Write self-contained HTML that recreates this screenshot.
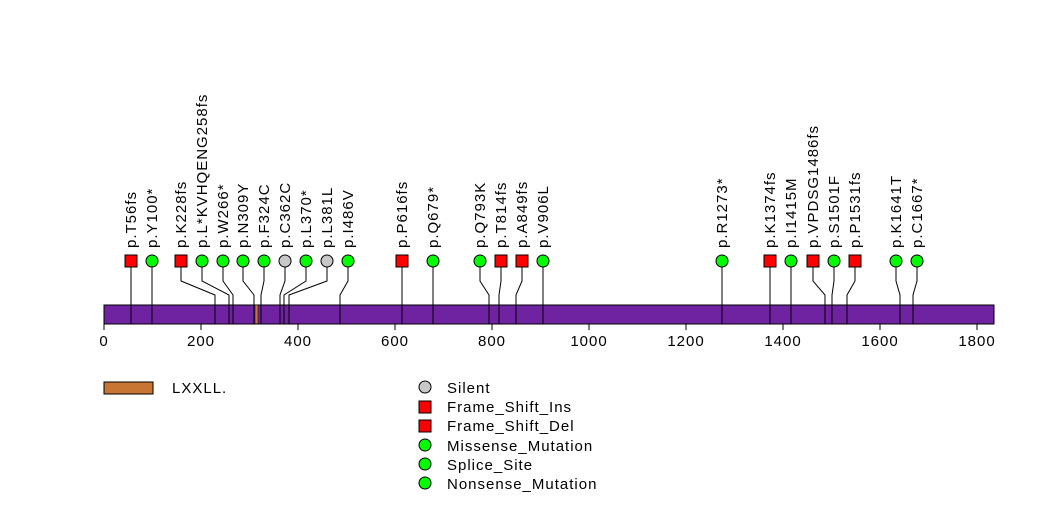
<!DOCTYPE html>
<html><head><style>body{margin:0;background:#fff}svg{display:block}text{font-family:"Liberation Sans",sans-serif;font-size:15px;letter-spacing:1px;fill:#000}</style></head><body>
<svg width="1047" height="524" xmlns="http://www.w3.org/2000/svg">
<rect x="104" y="305" width="890" height="19" fill="#6f23a0" stroke="#000" stroke-width="1"/>
<rect x="255" y="305" width="3" height="19" fill="#c87533" stroke="#000" stroke-width="0.5"/>
<g stroke="#000" stroke-width="1" fill="none">
<line x1="104" y1="324" x2="994" y2="324"/>
<line x1="104" y1="324" x2="104" y2="330"/><line x1="201" y1="324" x2="201" y2="330"/><line x1="298" y1="324" x2="298" y2="330"/><line x1="395" y1="324" x2="395" y2="330"/><line x1="492" y1="324" x2="492" y2="330"/><line x1="589" y1="324" x2="589" y2="330"/><line x1="686" y1="324" x2="686" y2="330"/><line x1="783" y1="324" x2="783" y2="330"/><line x1="880" y1="324" x2="880" y2="330"/><line x1="977" y1="324" x2="977" y2="330"/>
</g>
<g text-anchor="middle">
<text x="104" y="346">0</text><text x="201" y="346">200</text><text x="298" y="346">400</text><text x="395" y="346">600</text><text x="492" y="346">800</text><text x="589" y="346">1000</text><text x="686" y="346">1200</text><text x="783" y="346">1400</text><text x="880" y="346">1600</text><text x="977" y="346">1800</text>
</g>
<g stroke="#000" stroke-width="1" fill="none">
<polyline points="131,261 131,324"/>
<polyline points="152,261 152,324"/>
<polyline points="181,261 181,281 215,295 215,324"/>
<polyline points="202,261 202,281 229,295 229,324"/>
<polyline points="223,261 223,281 233,295 233,324"/>
<polyline points="243,261 243,281 254,295 254,324"/>
<polyline points="264,261 264,281 261,295 261,324"/>
<polyline points="285,261 285,281 280,295 280,324"/>
<polyline points="306,261 306,281 284,295 284,324"/>
<polyline points="327,261 327,281 289,295 289,324"/>
<polyline points="348,261 348,281 340,295 340,324"/>
<polyline points="402,261 402,324"/>
<polyline points="433,261 433,324"/>
<polyline points="480,261 480,281 489,295 489,324"/>
<polyline points="501,261 501,281 499,295 499,324"/>
<polyline points="522,261 522,281 516,295 516,324"/>
<polyline points="543,261 543,324"/>
<polyline points="722,261 722,324"/>
<polyline points="770,261 770,324"/>
<polyline points="791,261 791,324"/>
<polyline points="813,261 813,281 825,295 825,324"/>
<polyline points="834,261 834,281 832,295 832,324"/>
<polyline points="855,261 855,281 847,295 847,324"/>
<polyline points="896,261 896,281 900,295 900,324"/>
<polyline points="917,261 917,281 913,295 913,324"/>
</g>
<g stroke="#000" stroke-width="1">
<rect x="125" y="255" width="12" height="12" fill="#f00"/>
<circle cx="152" cy="261" r="6" fill="#0f0"/>
<rect x="175" y="255" width="12" height="12" fill="#f00"/>
<circle cx="202" cy="261" r="6" fill="#0f0"/>
<circle cx="223" cy="261" r="6" fill="#0f0"/>
<circle cx="243" cy="261" r="6" fill="#0f0"/>
<circle cx="264" cy="261" r="6" fill="#0f0"/>
<circle cx="285" cy="261" r="6" fill="#c8c8c8"/>
<circle cx="306" cy="261" r="6" fill="#0f0"/>
<circle cx="327" cy="261" r="6" fill="#c8c8c8"/>
<circle cx="348" cy="261" r="6" fill="#0f0"/>
<rect x="396" y="255" width="12" height="12" fill="#f00"/>
<circle cx="433" cy="261" r="6" fill="#0f0"/>
<circle cx="480" cy="261" r="6" fill="#0f0"/>
<rect x="495" y="255" width="12" height="12" fill="#f00"/>
<rect x="516" y="255" width="12" height="12" fill="#f00"/>
<circle cx="543" cy="261" r="6" fill="#0f0"/>
<circle cx="722" cy="261" r="6" fill="#0f0"/>
<rect x="764" y="255" width="12" height="12" fill="#f00"/>
<circle cx="791" cy="261" r="6" fill="#0f0"/>
<rect x="807" y="255" width="12" height="12" fill="#f00"/>
<circle cx="834" cy="261" r="6" fill="#0f0"/>
<rect x="849" y="255" width="12" height="12" fill="#f00"/>
<circle cx="896" cy="261" r="6" fill="#0f0"/>
<circle cx="917" cy="261" r="6" fill="#0f0"/>
</g>
<g>
<text transform="translate(136,248) rotate(-90)">p.T56fs</text>
<text transform="translate(157,248) rotate(-90)">p.Y100*</text>
<text transform="translate(186,248) rotate(-90)">p.K228fs</text>
<text transform="translate(207,248) rotate(-90)">p.L*KVHQENG258fs</text>
<text transform="translate(228,248) rotate(-90)">p.W266*</text>
<text transform="translate(248,248) rotate(-90)">p.N309Y</text>
<text transform="translate(269,248) rotate(-90)">p.F324C</text>
<text transform="translate(290,248) rotate(-90)">p.C362C</text>
<text transform="translate(311,248) rotate(-90)">p.L370*</text>
<text transform="translate(332,248) rotate(-90)">p.L381L</text>
<text transform="translate(353,248) rotate(-90)">p.I486V</text>
<text transform="translate(407,248) rotate(-90)">p.P616fs</text>
<text transform="translate(438,248) rotate(-90)">p.Q679*</text>
<text transform="translate(485,248) rotate(-90)">p.Q793K</text>
<text transform="translate(506,248) rotate(-90)">p.T814fs</text>
<text transform="translate(527,248) rotate(-90)">p.A849fs</text>
<text transform="translate(548,248) rotate(-90)">p.V906L</text>
<text transform="translate(727,248) rotate(-90)">p.R1273*</text>
<text transform="translate(775,248) rotate(-90)">p.K1374fs</text>
<text transform="translate(796,248) rotate(-90)">p.I1415M</text>
<text transform="translate(818,248) rotate(-90)">p.VPDSG1486fs</text>
<text transform="translate(839,248) rotate(-90)">p.S1501F</text>
<text transform="translate(860,248) rotate(-90)">p.P1531fs</text>
<text transform="translate(901,248) rotate(-90)">p.K1641T</text>
<text transform="translate(922,248) rotate(-90)">p.C1667*</text>
</g>
<rect x="104" y="382" width="49" height="12" fill="#c87533" stroke="#000" stroke-width="1"/>
<text x="172" y="393">LXXLL.</text>
<g stroke="#000" stroke-width="1">
<circle cx="425" cy="387" r="6" fill="#c8c8c8"/>
<rect x="419" y="401" width="12" height="12" fill="#f00"/>
<rect x="419" y="420" width="12" height="12" fill="#f00"/>
<circle cx="425" cy="445" r="6" fill="#0f0"/>
<circle cx="425" cy="464" r="6" fill="#0f0"/>
<circle cx="425" cy="483" r="6" fill="#0f0"/>
</g>
<text x="447" y="393">Silent</text>
<text x="447" y="412">Frame_Shift_Ins</text>
<text x="447" y="431">Frame_Shift_Del</text>
<text x="447" y="451">Missense_Mutation</text>
<text x="447" y="470">Splice_Site</text>
<text x="447" y="489">Nonsense_Mutation</text>
</svg>
</body></html>
